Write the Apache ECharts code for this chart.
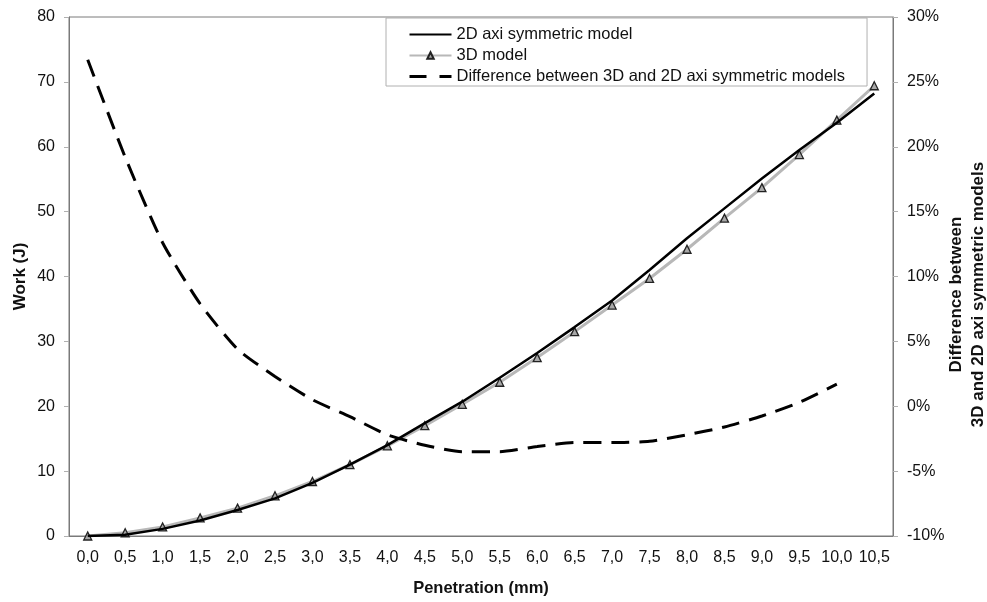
<!DOCTYPE html>
<html>
<head>
<meta charset="utf-8">
<script src="https://cdn.jsdelivr.net/npm/echarts@6/dist/echarts.min.js"></script>
<style>
  html, body { margin: 0; padding: 0; background: #fff; }
  #chart { width: 987px; height: 602px; }
</style>
</head>
<body>
<div id="chart"></div>
<script>
// penetration steps (mm), comma decimals as in the original
var categories = ['0,0', '0,5', '1,0', '1,5', '2,0', '2,5', '3,0', '3,5', '4,0', '4,5', '5,0',
  '5,5', '6,0', '6,5', '7,0', '7,5', '8,0', '8,5', '9,0', '9,5', '10,0', '10,5']

// work (J)
var work2D = [0, 0.2, 1.1, 2.4, 4.0, 5.8, 8.2, 11.0, 14.0, 17.4, 20.7,
  24.4, 28.2, 32.2, 36.3, 41.0, 45.9, 50.5, 55.1, 59.5, 63.7, 68.2]
var work3D = [0, 0.5, 1.4, 2.8, 4.3, 6.2, 8.4, 11.0, 13.9, 17.0, 20.3,
  23.7, 27.5, 31.5, 35.6, 39.7, 44.2, 49.0, 53.7, 58.8, 64.1, 69.4]

// difference between 3D and 2D (%)
var diffPct = [26.7, 19.2, 12.6, 7.9, 4.4, 2.3, 0.5, -0.8, -2.2, -3.0, -3.5,
  -3.5, -3.1, -2.8, -2.8, -2.7, -2.2, -1.6, -0.75, 0.3, 1.7, null]

var workTicks = [0, 10, 20, 30, 40, 50, 60, 70, 80]
var diffTicks = [-10, -5, 0, 5, 10, 15, 20, 25, 30]

var seriesNames = ['2D axi symmetric model', '3D model', 'Difference between 3D and 2D axi symmetric models']

var font = 'Liberation Sans, Arial, sans-serif'
var axisGrey = '#7a7a7a'
var tickGrey = '#b0b0b0'
var noSymbol = { color: 'rgba(0,0,0,0)', borderColor: 'rgba(0,0,0,0)', borderWidth: 0 }

var chart = echarts.init(document.getElementById('chart'))

chart.setOption({
  backgroundColor: '#fff',
  animation: false,
  textStyle: { fontFamily: font },
  grid: {
    left: 69,
    top: 17,
    right: 94,
    bottom: 66,
    outerBoundsMode: 'none',
    containLabel: false,
    show: true,
    borderColor: axisGrey,
    borderWidth: 1
  },
  legend: {
    orient: 'vertical',
    left: 386,
    top: 18,
    padding: [8, 22, 1, 22],
    itemWidth: 42,
    itemHeight: 8,
    itemGap: 4,
    itemTextGap: 4,
    borderColor: '#b0b0b0',
    borderWidth: 1,
    backgroundColor: '#fff',
    textStyle: { fontFamily: font, fontSize: 16.5, color: '#111' },
    data: [
      { name: seriesNames[0], itemStyle: noSymbol },
      { name: seriesNames[1] },
      { name: seriesNames[2], itemStyle: noSymbol, lineStyle: { type: [17, 13], width: 3 } }
    ]
  },
  xAxis: [{
    type: 'category',
    data: categories,
    boundaryGap: true,
    name: 'Penetration (mm)',
    nameLocation: 'middle',
    nameGap: 44,
    nameTextStyle: { fontFamily: font, fontSize: 16.5, fontWeight: 'bold', color: '#111' },
    axisLine: { lineStyle: { color: axisGrey, width: 1 } },
    axisTick: { interval: 1, length: 5, lineStyle: { color: axisGrey } },
    axisLabel: { interval: 0, margin: 14, fontFamily: font, fontSize: 16, color: '#111' },
    splitLine: { show: false }
  }, {
    // minor ticks between the labelled steps
    type: 'category',
    data: categories,
    position: 'bottom',
    boundaryGap: true,
    axisLine: { show: false },
    axisTick: { interval: 0, inside: true, length: 5, lineStyle: { color: tickGrey } },
    axisLabel: { show: false },
    splitLine: { show: false }
  }],
  yAxis: [{
    type: 'value',
    min: workTicks[0],
    max: workTicks[workTicks.length - 1],
    interval: workTicks[1] - workTicks[0],
    name: 'Work (J)',
    nameLocation: 'middle',
    nameRotate: 90,
    nameGap: 40,
    nameMoveOverlap: false,
    nameTextStyle: { fontFamily: font, fontSize: 17, fontWeight: 'bold', color: '#111' },
    axisLine: { show: true, lineStyle: { color: axisGrey, width: 1 } },
    axisTick: { show: true, length: 5, lineStyle: { color: tickGrey } },
    axisLabel: { margin: 14, fontFamily: font, fontSize: 16, color: '#111' },
    splitLine: { show: false }
  }, {
    type: 'value',
    position: 'right',
    min: diffTicks[0],
    max: diffTicks[diffTicks.length - 1],
    interval: diffTicks[1] - diffTicks[0],
    name: 'Difference between\n3D and 2D axi symmetric models',
    nameLocation: 'middle',
    nameRotate: 90,
    nameGap: 52,
    nameMoveOverlap: false,
    nameTextStyle: {
      fontFamily: font, fontSize: 17, fontWeight: 'bold', color: '#111',
      lineHeight: 22, padding: [0, 36, 0, 0]
    },
    axisLine: { show: true, lineStyle: { color: axisGrey, width: 1 } },
    axisTick: { show: true, length: 5, lineStyle: { color: tickGrey } },
    axisLabel: {
      margin: 14, fontFamily: font, fontSize: 16, color: '#111',
      formatter: function (v) { return v + '%' }
    },
    splitLine: { show: false }
  }],
  series: [{
    name: seriesNames[1],
    type: 'line',
    yAxisIndex: 0,
    data: work3D,
    symbol: 'triangle',
    symbolSize: 8,
    showAllSymbol: true,
    lineStyle: { color: '#b8b8b8', width: 3 },
    itemStyle: { color: '#a8a8a8', borderColor: '#222', borderWidth: 1.3 },
    z: 2
  }, {
    name: seriesNames[0],
    type: 'line',
    yAxisIndex: 0,
    data: work2D,
    symbol: 'none',
    lineStyle: { color: '#000', width: 2.5 },
    itemStyle: { color: '#000' },
    z: 3
  }, {
    name: seriesNames[2],
    type: 'line',
    yAxisIndex: 1,
    data: diffPct,
    symbol: 'none',
    smooth: 0.2,
    lineStyle: { color: '#000', width: 3, type: [18, 10] },
    itemStyle: { color: '#000' },
    z: 4
  }]
})
</script>
</body>
</html>
